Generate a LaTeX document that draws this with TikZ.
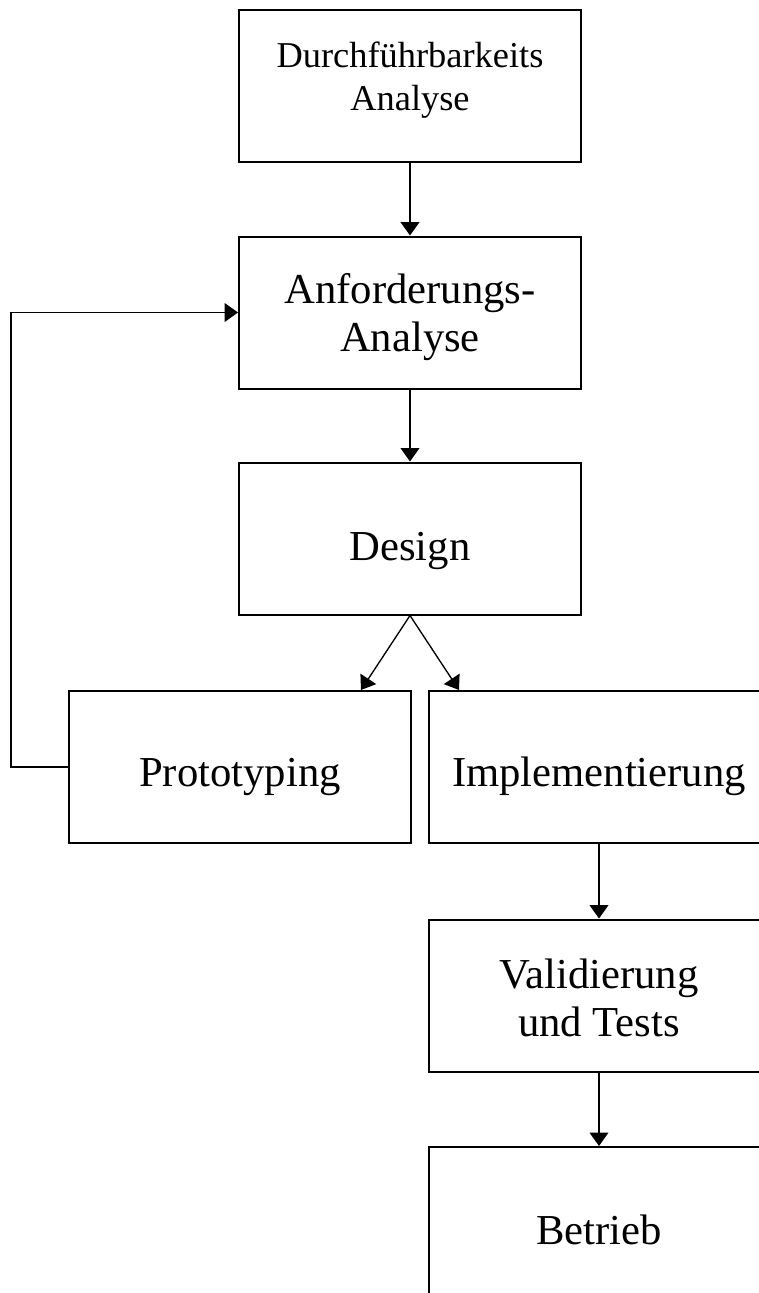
\documentclass[tikz,border=0pt]{standalone}
\usepackage{fontspec}
\setmainfont{Liberation Serif}
\usetikzlibrary{arrows.meta}
\begin{document}
\begin{tikzpicture}[x=0.75pt,y=-0.75pt,
  stage/.style={draw, line width=1.5pt, minimum width=256.5pt, minimum height=114pt, inner sep=0pt},
  caption/.style={align=center, inner sep=0pt, font=\fontsize{32}{36}\selectfont},
  small caption/.style={caption, font=\fontsize{27.3}{32}\selectfont},
  flow/.style={line width=1pt, -{Triangle[length=10pt,width=14pt]}}]
\useasboundingbox (0,0) rectangle (759,1293);
% process stages
\node[stage, label={[small caption, yshift=4.5pt]center:Durchführbarkeits\\Analyse}] (feas) at (410,86) {};
\node[stage, label={[caption, yshift=-3.75pt]center:Anforderungs-\\Analyse}] (req) at (410,312.5) {};
\node[stage, label={[caption, yshift=-9pt]center:Design}] (des) at (410,538.5) {};
\node[stage, label={[caption, yshift=-7.5pt]center:Prototyping}] (proto) at (240,767) {};
\node[stage, minimum width=255pt, label={[caption, yshift=-7pt]center:Implementierung}] (impl) at (599,767) {};
\node[stage, minimum width=255pt, label={[caption, yshift=-2pt]center:Validierung\\und Tests}] (val) at (599,995.5) {};
\node[stage, minimum width=255pt, label={[caption, yshift=-5pt]center:Betrieb}] (ops) at (599,1223) {};
% main flow
\draw[flow] (feas) -- (req);
\draw[flow] (req) -- (des);
\draw[flow] (des.south) -- ([xshift=-38.25pt]proto.north east);
\draw[flow] (des.south) -- ([xshift=23.25pt]impl.north west);
\draw[flow] (impl) -- (val);
\draw[flow] (val) -- (ops);
% feedback from prototyping back to requirements
\draw[flow] (proto.west) -- ++(-57,0) |- (req.west);
\end{tikzpicture}
\end{document}
